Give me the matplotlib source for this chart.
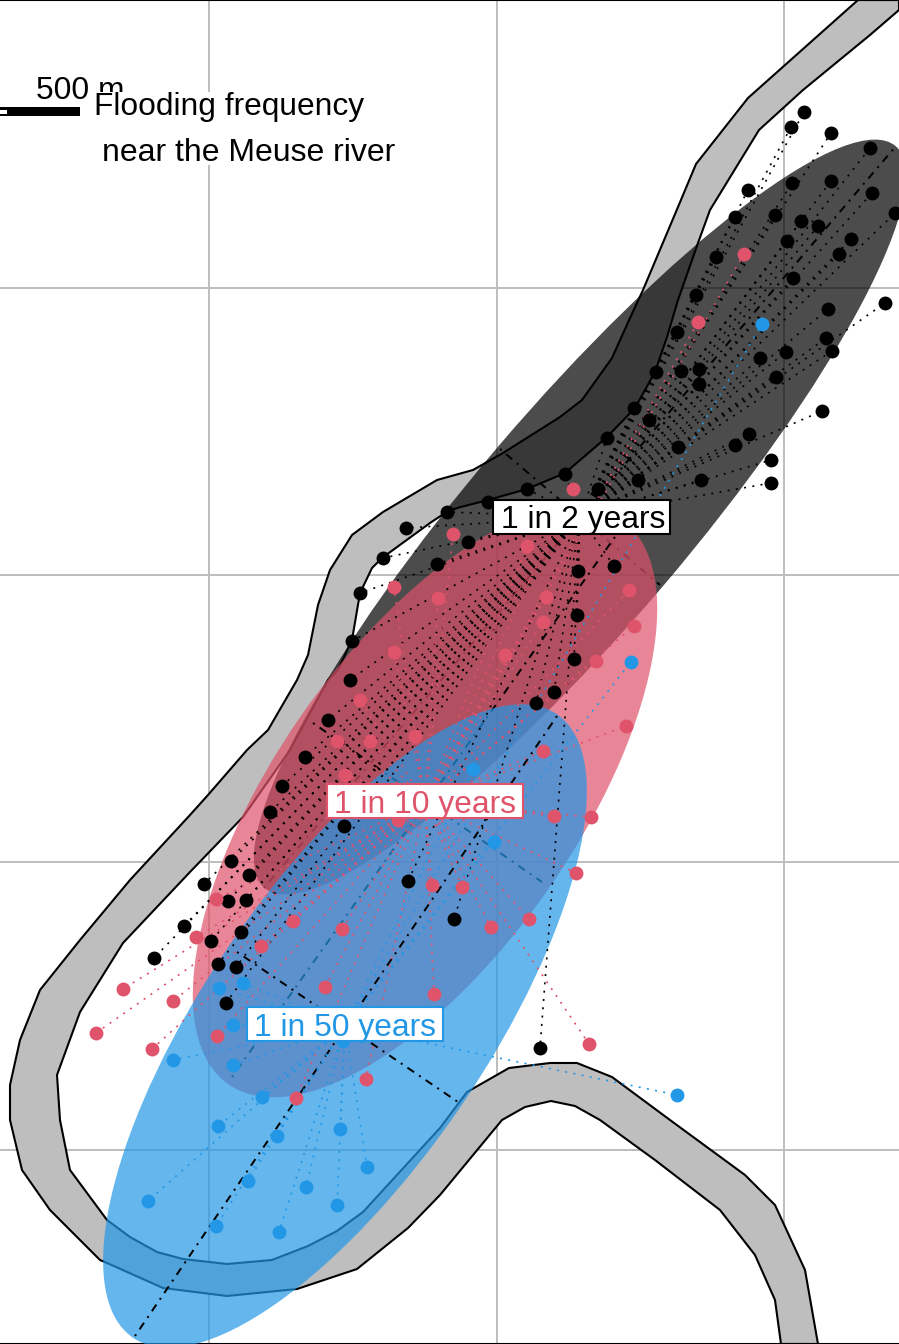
import matplotlib
matplotlib.use("Agg")
import matplotlib.pyplot as plt
from matplotlib.patches import Ellipse, Polygon, Rectangle

plt.rcParams['font.family'] = ['Liberation Sans', 'DejaVu Sans']

# map coordinates, 0.575 units = 1 m, y runs downward
grid_x = [209, 497, 784]
grid_y = [287.5, 575, 862, 1150]

# river banks
bank_a_x = [858, 748, 696, 678, 643, 630, 612, 582, 560, 503, 473, 437, 383, 352, 330, 318, 308, 297, 268, 247, 208,
            190, 130, 80, 40, 20, 10, 10, 22, 50, 100, 107, 163, 227, 297, 357, 408, 440, 502, 525, 551, 575, 600,
            655, 720, 755, 775, 781]
bank_a_y = [0, 98, 164, 207, 290, 318, 358, 400, 417, 453, 470, 480, 512, 535, 570, 605, 655, 680, 730, 750, 795,
            815, 880, 940, 990, 1040, 1085, 1120, 1170, 1210, 1260, 1263, 1288, 1296, 1289, 1269, 1228, 1195, 1120,
            1107, 1101, 1106, 1120, 1160, 1210, 1255, 1300, 1344]
bank_b_x = [818, 805, 775, 745, 670, 612, 577, 550, 509, 467, 440, 363, 337, 308, 272, 227, 183, 157, 130, 107, 70,
            60, 57, 80, 123, 190, 243, 290, 328, 338, 352, 360, 372, 382, 430, 445, 457, 488, 527, 565, 607, 635,
            655, 667, 678, 698, 710, 759, 803, 870, 899, 899]
bank_b_y = [1344, 1270, 1205, 1175, 1120, 1077, 1063, 1063, 1068, 1092, 1128, 1212, 1231, 1246, 1260, 1264, 1259,
            1252, 1237, 1220, 1170, 1120, 1075, 1012, 943, 872, 817, 750, 680, 670, 640, 593, 568, 558, 523, 513,
            508, 500, 489, 473, 437, 408, 372, 337, 300, 243, 210, 130, 90, 35, 10, 0]

# flooding frequency classes
labels = ['1 in 2 years', '1 in 10 years', '1 in 50 years']
colors = ['black', '#DF536B', '#2297E6']
center_x = [580, 425, 345]
center_y = [517, 802, 1026]
semi_major = [487, 344, 377]
semi_minor = [108, 151, 141]
angle = [49.6, 55.2, 55.8]

# label boxes and text baselines
box_left = [493, 327, 247]
box_right = [670, 523, 443]
box_top = [500, 784, 1007]
box_bottom = [534, 818, 1041]
label_x = [583, 425, 345.5]
label_base = [528, 813, 1036]

# ellipse axes, (x0, y0, x1, y1)
major_axis = [(264, 888, 896, 146), (232, 1077, 622, 527), (135, 1336, 557, 716)]
minor_axis = [(500, 449, 660, 585), (313, 723, 542, 882), (237, 952, 458, 1102)]

black_x = [804, 791, 831, 870, 748, 792, 831, 872, 735, 775, 801, 818, 895, 851, 787, 716, 839, 793, 696, 885, 828,
           677, 826, 832, 786, 760, 776, 656, 681, 699, 699, 822, 634, 649, 749, 735, 607, 678, 771, 771, 701, 638,
           565, 598, 527, 488, 447, 406, 468, 437, 383, 360, 352, 350, 614, 578, 577, 574, 554, 536, 328, 305, 282,
           270, 344, 231, 249, 204, 228, 246, 408, 184, 241, 211, 154, 218, 236, 226, 454, 540]
black_y = [112, 127, 133, 148, 190, 183, 181, 193, 217, 215, 221, 226, 213, 239, 241, 257, 254, 278, 295, 303, 309,
           332, 338, 351, 352, 358, 377, 372, 371, 369, 384, 411, 408, 420, 434, 445, 438, 447, 460, 483, 480, 480,
           474, 489, 489, 502, 512, 528, 542, 564, 558, 593, 641, 680, 566, 571, 615, 659, 692, 703, 720, 757, 786,
           812, 826, 861, 875, 884, 901, 900, 881, 926, 932, 941, 958, 964, 967, 1003, 919, 1048]

red_x = [744, 698, 573, 453, 527, 394, 438, 546, 543, 629, 634, 394, 505, 596, 360, 337, 370, 415, 345, 398, 432,
         462, 216, 543, 626, 554, 591, 576, 293, 342, 196, 261, 123, 173, 325, 96, 152, 217, 366, 296, 491, 529,
         434, 589]
red_y = [254, 322, 489, 534, 546, 587, 598, 597, 622, 590, 626, 652, 655, 661, 700, 741, 741, 736, 775, 820, 885,
         887, 899, 751, 726, 816, 817, 873, 921, 929, 937, 946, 989, 1001, 987, 1033, 1049, 1036, 1079, 1098, 927,
         919, 994, 1044]

blue_x = [762, 631, 473, 494, 219, 243, 233, 343, 173, 233, 262, 218, 340, 277, 367, 248, 306, 148, 337, 216, 279,
          677]
blue_y = [324, 662, 769, 842, 988, 983, 1025, 1041, 1060, 1065, 1097, 1126, 1129, 1136, 1167, 1181, 1187, 1201,
          1205, 1226, 1232, 1095]

points_x = [black_x, red_x, blue_x]
points_y = [black_y, red_y, blue_y]

fig = plt.figure(figsize=(8.99, 13.44), dpi=100)
ax = fig.add_axes([0, 0, 1, 1])
ax.set_xlim(0, 899)
ax.set_ylim(1344, 0)

ax.set_xticks(grid_x)
ax.set_yticks(grid_y)
ax.tick_params(length=0, labelbottom=False, labelleft=False)
ax.grid(color='#BEBEBE', linewidth=1.44)
ax.set_axisbelow(True)
ax.spines['left'].set_visible(False)
ax.spines['right'].set_visible(False)
ax.spines['top'].set_linewidth(1.5)
ax.spines['bottom'].set_linewidth(1.5)

river = list(zip(bank_a_x + bank_b_x, bank_a_y + bank_b_y))
ax.add_patch(Polygon(river, closed=True, facecolor='#BEBEBE', edgecolor='black', linewidth=1.5, zorder=2))

# ellipse then its axes, so the next ellipse tints them
axis_style = (0, (1, 3, 4, 3))
for i in range(3):
    ax.add_patch(Ellipse((center_x[i], center_y[i]), 2 * semi_major[i], 2 * semi_minor[i], angle=-angle[i],
                         facecolor=colors[i], edgecolor='none', alpha=0.7, zorder=3 + i))
    for seg in (major_axis[i], minor_axis[i]):
        ax.plot([seg[0], seg[2]], [seg[1], seg[3]], color='black', linewidth=1.44, linestyle=axis_style,
                dash_capstyle='butt', zorder=3 + i)

for i in range(3):
    for px, py in zip(points_x[i], points_y[i]):
        ax.plot([center_x[i], px], [center_y[i], py], color=colors[i], linewidth=1.2, linestyle=(0, (1.2, 3.8)),
                dash_capstyle='butt', zorder=7)

for i in range(3):
    ax.scatter(points_x[i], points_y[i], s=100, color=colors[i], linewidths=0, zorder=8)

for i in range(3):
    ax.add_patch(Rectangle((box_left[i], box_top[i]), box_right[i] - box_left[i], box_bottom[i] - box_top[i],
                           facecolor='white', edgecolor=colors[i], linewidth=1.5, zorder=9))
    ax.text(label_x[i], label_base[i], labels[i], color=colors[i], fontsize=22.9, ha='center', va='baseline',
            zorder=10)

# scale bar
ax.add_patch(Rectangle((-5, 107), 85, 9, facecolor='black', edgecolor='none', zorder=10))
ax.add_patch(Rectangle((-5, 109.5), 12, 4.5, facecolor='white', edgecolor='none', zorder=11))
ax.text(80, 99, '500 m', fontsize=22.9, ha='center', va='baseline', zorder=11)

# title sits on a white box that also clips the scale text
ax.add_patch(Rectangle((92, 92), 306, 73, facecolor='white', edgecolor='none', zorder=12))
ax.text(94, 115, 'Flooding frequency', fontsize=22.9, va='baseline', zorder=13)
ax.text(102, 161, 'near the Meuse river', fontsize=23, va='baseline', zorder=13)

plt.savefig("out.png", dpi=100)
